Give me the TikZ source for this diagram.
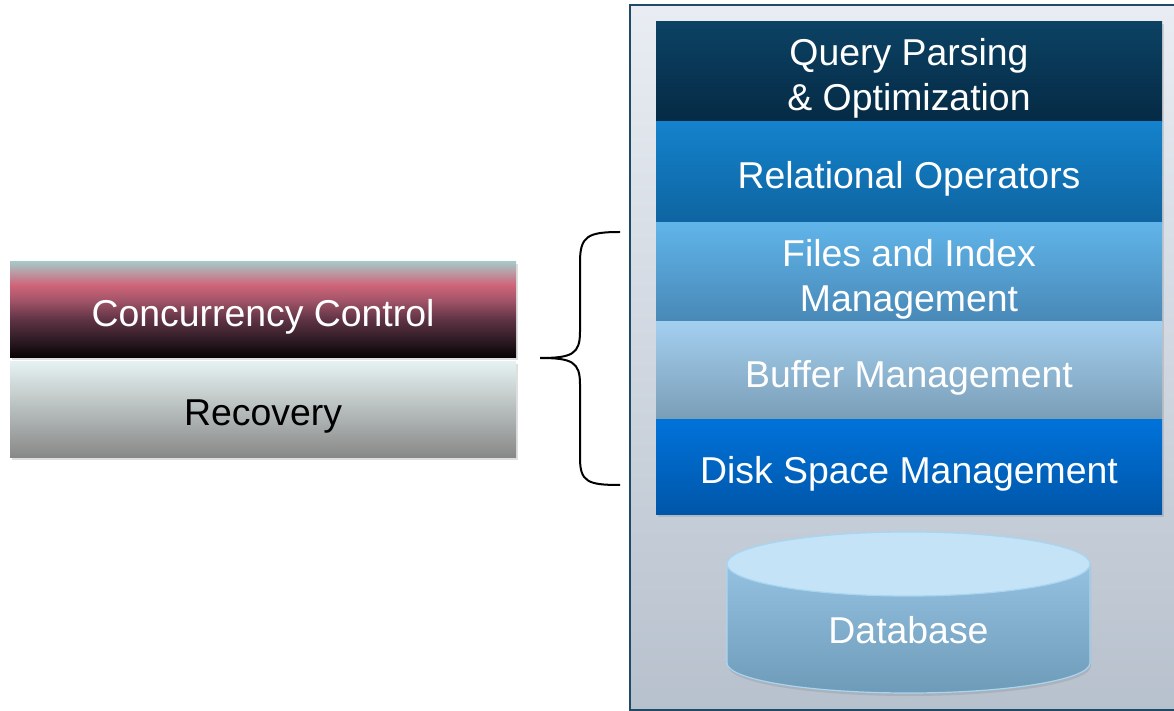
\documentclass[tikz,border=0pt]{standalone}
\usepackage{fontspec}
\setmainfont{Liberation Sans}
\usetikzlibrary{positioning,shadows}

\definecolor{qtop}{HTML}{0C4264}
\definecolor{qbot}{HTML}{052A44}
\definecolor{rtop}{HTML}{1482CC}
\definecolor{rbot}{HTML}{0E64A0}
\definecolor{ftop}{HTML}{60B4E9}
\definecolor{fbot}{HTML}{4888B6}
\definecolor{btop}{HTML}{A3CFEF}
\definecolor{bbot}{HTML}{7A9DB6}
\definecolor{dtop}{HTML}{0072DA}
\definecolor{dbot}{HTML}{0056A8}
\definecolor{ptop}{HTML}{E9EDF3}
\definecolor{pbot}{HTML}{B7C1CD}
\definecolor{pline}{HTML}{1F4A68}
\definecolor{cyltop}{HTML}{C5E3F7}
\definecolor{cylhi}{HTML}{9DCBEA}
\definecolor{cyllo}{HTML}{6E9BB8}
\definecolor{cyledge}{HTML}{A9D5F1}
\definecolor{rectop}{HTML}{E5F1F1}
\definecolor{recbot}{HTML}{878787}
\definecolor{ccbot}{HTML}{050203}
\definecolor{ccdark}{HTML}{2C1A22}
\definecolor{ccmid}{HTML}{5E3344}
\definecolor{ccrose}{HTML}{A25468}
\definecolor{ccpink}{HTML}{D06479}
\definecolor{cctop}{HTML}{A7C7C6}

\pgfdeclareverticalshading{ccshade}{100bp}{color(0bp)=(ccbot); color(25bp)=(ccbot); color(34bp)=(ccdark); color(45bp)=(ccmid); color(55bp)=(ccrose); color(63bp)=(ccpink); color(75bp)=(cctop); color(100bp)=(cctop)}

\begin{document}
\begin{tikzpicture}[x=0.5pt,y=-0.5pt]
	\tikzset{layer/.style={minimum width=253pt, inner sep=0pt, outer sep=0pt, drop shadow={opacity=0.25, shadow xshift=1pt, shadow yshift=-1.2pt}},
		laytext/.style={text=white, align=center, yshift=-3.3pt, font=\fontsize{18.7}{22.5}\selectfont},
		side/.style={layer, minimum height=48pt}}
	
	% Fix the size of the page
	\useasboundingbox (0,0) rectangle (1174,711);
	
	% Panel behind the layers
	\draw[pline, line width=1pt, top color=ptop, bottom color=pbot] (630,5) rectangle (1180,710);
	
	% Layers of the stack
	\node[layer, minimum height=50pt, top color=qtop, bottom color=qbot, label={[laytext]center:{Query Parsing\\\& Optimization}}] (query) at (909,72) {};
	\node[layer, minimum height=50.5pt, top color=rtop, bottom color=rbot, below=0pt of query, label={[laytext]center:Relational Operators}] (relop) {};
	\node[layer, minimum height=49.5pt, top color=ftop, bottom color=fbot, below=0pt of relop, label={[laytext]center:{Files and Index\\Management}}] (files) {};
	\node[layer, minimum height=49pt, top color=btop, bottom color=bbot, below=0pt of files, label={[laytext]center:Buffer Management}] (buffer) {};
	\node[layer, minimum height=47.5pt, top color=dtop, bottom color=dbot, below=0pt of buffer, label={[laytext]center:Disk Space Management}] (disk) {};
	
	% Draw the database cylinder
	\def\cylrx{90.75pt}
	\filldraw[cyledge, line width=0.6pt, top color=cylhi, bottom color=cyllo, drop shadow={opacity=0.25, shadow xshift=0.5pt, shadow yshift=-1.5pt}]
		(727,564) -- (727,663) arc[start angle=180, end angle=360, x radius=\cylrx, y radius=15pt]
		-- (1090,564) arc[start angle=0, end angle=180, x radius=\cylrx, y radius=16pt] -- cycle;
	\filldraw[cyledge, line width=0.6pt, fill=cyltop] (908.5,564) ellipse[x radius=\cylrx, y radius=16pt];
	\node[laytext, yshift=3.3pt] (db) at (908.5,630) {Database};
	
	% Concurrency control and recovery
	\node[side, shading=ccshade, label={[laytext]center:Concurrency Control}] (cc) at (263,310) {};
	\node[side, top color=rectop, bottom color=recbot, below=2pt of cc, label={[laytext, text=black]center:Recovery}] (rec) {};
	
	% Brace towards the stack
	\coordinate (btop) at (620,232);
	\coordinate (bbot) at (620,485);
	\coordinate (btip) at (540,358);
	\draw[line width=1pt] (btop) .. controls (588,232) and (580,236) .. (580,262) -- (580,332)
		.. controls (580,354) and (572,358) .. (btip)
		.. controls (572,358) and (580,362) .. (580,384) -- (580,458)
		.. controls (580,482) and (588,485) .. (bbot);
	
\end{tikzpicture}
\end{document}
